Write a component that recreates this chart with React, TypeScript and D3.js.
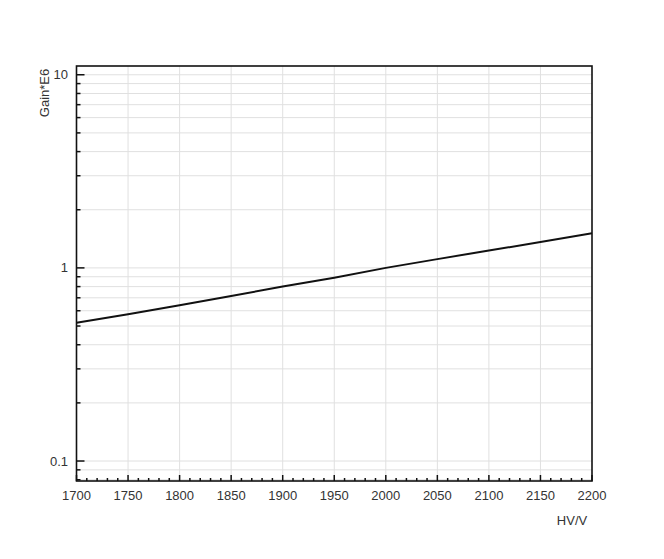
import { useRef, useEffect } from 'react'
import * as d3 from 'd3'

const voltage = [1700, 1750, 1800, 1850, 1900, 1950, 2000, 2050, 2100, 2150, 2200]
const gain = [0.52, 0.575, 0.64, 0.715, 0.8, 0.89, 1.0, 1.11, 1.23, 1.36, 1.51]
const xTicks = [1700, 1750, 1800, 1850, 1900, 1950, 2000, 2050, 2100, 2150, 2200]
const yTicks = [0.1, 1, 10]

export default function App() {
  const svgRef = useRef<SVGSVGElement>(null)
  const width = 664
  const height = 559

  useEffect(() => {
    if (!svgRef.current) return
    const svg = d3.select(svgRef.current)
    svg.selectAll('*').remove()

    const left = 76.5, right = 592, top = 66, bottom = 481
    const font = "'Liberation Sans', Arial, sans-serif"
    const fs = '13px'

    const x = d3.scaleLinear().domain([1700, 2200]).range([left, right])
    const y = d3.scaleLog().domain([0.0788, 11.1]).range([bottom, top])

    // minor log values
    const minorY: number[] = []
    for (const dec of [0.01, 0.1, 1, 10]) {
      for (let k = 1; k <= 9; k++) {
        const v = dec * k
        if (v >= 0.0788 && v <= 11.1) minorY.push(v)
      }
    }

    const grid = svg.append('g').attr('stroke', '#e0e0e0').attr('stroke-width', 1)
    grid.selectAll('.hg')
      .data(minorY)
      .join('line')
      .attr('x1', left).attr('x2', right)
      .attr('y1', d => y(d)).attr('y2', d => y(d))
    grid.selectAll('.vg')
      .data(xTicks.slice(1, -1))
      .join('line')
      .attr('y1', top).attr('y2', bottom)
      .attr('x1', d => x(d)).attr('x2', d => x(d))

    // curve
    const line = d3.line<number>()
      .x((_, i) => x(voltage[i]))
      .y(d => y(d))
    svg.append('path')
      .datum(gain)
      .attr('d', line)
      .attr('fill', 'none')
      .attr('stroke', '#111')
      .attr('stroke-width', 2)

    // inward ticks
    const ticks = svg.append('g').attr('stroke', '#111')
    ticks.selectAll('.yt')
      .data(minorY)
      .join('line')
      .attr('x1', left)
      .attr('x2', d => left + (yTicks.some(t => Math.abs(t - d) < 1e-9) ? 8 : 4))
      .attr('y1', d => y(d)).attr('y2', d => y(d))
      .attr('stroke-width', 1.5)
    ticks.selectAll('.xt')
      .data(d3.range(1700, 2201, 10))
      .join('line')
      .attr('x1', d => x(d)).attr('x2', d => x(d))
      .attr('y1', bottom)
      .attr('y2', d => bottom - (d % 50 === 0 ? 6 : 3))
      .attr('stroke-width', 1.5)

    // frame
    svg.append('rect')
      .attr('x', left).attr('y', top)
      .attr('width', right - left).attr('height', bottom - top)
      .attr('fill', 'none')
      .attr('stroke', '#111')
      .attr('stroke-width', 1.6)

    // tick labels
    svg.selectAll('.xl')
      .data(xTicks)
      .join('text')
      .attr('x', d => x(d))
      .attr('y', 500)
      .attr('text-anchor', 'middle')
      .attr('font-family', font)
      .attr('font-size', fs)
      .attr('fill', '#333')
      .text(d => d)

    svg.selectAll('.yl')
      .data(yTicks)
      .join('text')
      .attr('x', 68)
      .attr('y', d => y(d) + 4.5)
      .attr('text-anchor', 'end')
      .attr('font-family', font)
      .attr('font-size', fs)
      .attr('fill', '#333')
      .text(d => d)

    svg.append('text')
      .attr('transform', 'translate(49,93) rotate(-90)')
      .attr('text-anchor', 'middle')
      .attr('font-family', font)
      .attr('font-size', fs)
      .attr('fill', '#333')
      .text('Gain*E6')

    svg.append('text')
      .attr('x', 572)
      .attr('y', 525)
      .attr('text-anchor', 'middle')
      .attr('font-family', font)
      .attr('font-size', fs)
      .attr('fill', '#333')
      .text('HV/V')
  }, [])

  return (
    <svg
      ref={svgRef}
      width={width}
      height={height}
      style={{ position: 'fixed', left: 0, top: 0, background: '#fff' }}
    />
  )
}
